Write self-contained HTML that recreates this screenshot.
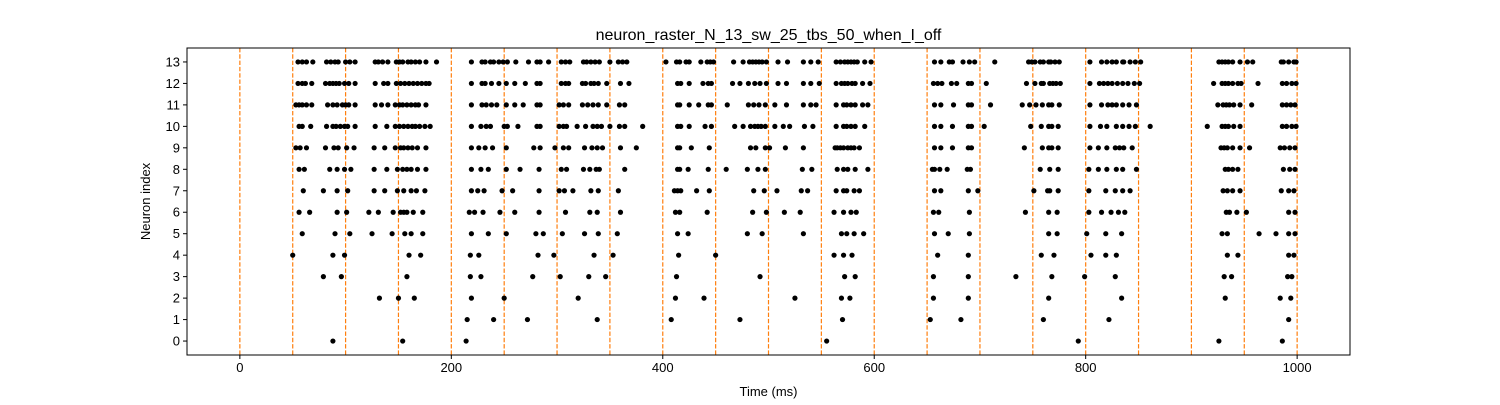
<!DOCTYPE html>
<html><head><meta charset="utf-8"><style>
html,body{margin:0;padding:0;background:#fff;}
svg text{font-family:"Liberation Sans",sans-serif;fill:#000;}
</style></head><body>
<svg id="chart" width="1500" height="400" xmlns="http://www.w3.org/2000/svg"></svg>
<script>
const title = "neuron_raster_N_13_sw_25_tbs_50_when_I_off";
const xTicks = [0, 200, 400, 600, 800, 1000];
const yTicks = [0,1,2,3,4,5,6,7,8,9,10,11,12,13];
const stimTimes = [0,50,100,150,200,250,300,350,400,450,500,550,600,650,700,750,800,850,900,950,1000];
const spikes0 = [88,154,214,555,793,926,986];
const spikes1 = [215,240,272,338,408,473,570,653,682,760,822,992];
const spikes2 = [132,150,165,219,250,320,412,439,525,569,577,656,689,765,834,932,984,994];
const spikes3 = [79,96,158,218,228,277,303,330,346,413,492,572,582,656,689,734,768,799,828,931,938,991,995];
const spikes4 = [50,88,99,160,171,218,226,282,297,335,353,415,450,562,571,579,660,689,758,770,805,819,829,934,944,992,997];
const spikes5 = [59,90,104,125,144,156,162,173,219,235,252,280,287,305,326,339,357,414,424,480,494,533,569,574,581,590,657,670,690,765,773,801,819,834,929,934,964,980,992,998];
const spikes6 = [56,66,92,101,122,131,145,152,155,158,164,173,217,222,230,246,260,283,308,331,338,360,412,416,442,485,498,515,530,562,571,578,583,656,661,690,743,765,773,803,815,824,831,837,933,936,943,952,992,998];
const spikes7 = [60,79,92,102,127,137,149,155,162,167,175,219,225,231,248,258,283,302,307,315,332,339,358,411,414,417,432,444,486,496,508,531,537,564,571,574,581,586,657,663,689,698,751,764,766,774,803,819,828,835,842,930,934,939,946,985,992,997];
const spikes8 = [56,61,85,92,99,105,127,139,149,154,158,162,168,176,219,228,235,252,265,283,304,309,325,331,337,340,364,414,416,424,443,460,480,490,497,532,541,565,571,575,582,594,655,657,662,669,688,691,757,766,774,803,812,820,829,835,848,932,935,939,944,987,993,998];
const spikes9 = [53,57,63,81,89,93,101,108,127,137,147,152,155,159,163,168,176,219,226,232,239,252,278,284,298,306,311,326,333,338,343,360,375,414,416,427,444,483,488,497,501,516,533,563,565,568,571,575,578,581,586,657,663,674,689,692,742,759,765,768,774,804,812,820,828,832,836,844,928,931,934,939,946,955,984,988,993,998];
const spikes10 = [56,59,67,82,88,91,95,99,102,109,128,139,147,151,155,159,163,166,170,175,180,219,228,233,237,250,253,263,281,284,302,306,309,319,327,334,338,342,350,359,364,381,414,417,425,440,446,468,476,483,487,490,493,497,506,514,520,534,542,564,571,574,578,582,591,657,663,674,689,692,704,748,758,765,768,774,804,814,820,829,835,841,847,861,915,929,932,935,940,946,986,990,995,999];
const spikes11 = [53,56,59,63,68,83,88,92,97,100,103,109,128,134,140,147,151,154,158,162,166,169,176,219,229,233,238,243,252,260,268,281,284,302,306,311,324,329,334,339,347,359,364,414,416,425,434,443,446,461,481,486,491,497,506,517,533,540,545,564,571,574,578,582,589,594,657,663,675,689,692,710,740,747,753,759,765,768,775,804,815,821,825,829,835,841,848,925,930,933,936,940,946,957,986,990,994,998];
const spikes12 = [55,59,62,68,81,85,88,91,94,99,103,109,128,136,140,148,152,156,160,164,168,172,176,179,219,229,232,238,245,252,260,270,281,284,304,308,311,324,327,332,335,339,347,360,368,414,417,425,438,443,446,466,473,481,487,492,498,509,517,533,540,548,564,569,572,575,579,582,589,596,656,660,664,673,678,689,692,706,744,752,758,760,766,769,772,776,804,813,817,821,825,830,835,840,846,851,921,929,932,935,939,944,947,963,986,990,995,999];
const spikes13 = [55,59,63,69,82,86,90,93,100,104,109,128,131,135,140,148,151,154,159,162,166,170,176,186,219,229,232,237,240,245,249,253,261,273,281,284,292,304,308,312,325,328,332,336,340,350,358,362,366,403,413,416,422,425,436,442,445,448,467,476,482,485,488,491,494,498,509,518,533,540,547,564,568,572,575,578,581,584,591,597,657,663,671,674,684,690,695,714,746,749,752,757,760,765,767,771,775,804,815,820,825,829,835,836,842,847,852,926,929,932,935,939,946,953,958,985,987,992,997,999];
const spikes = [spikes0,spikes1,spikes2,spikes3,spikes4,spikes5,spikes6,spikes7,spikes8,spikes9,spikes10,spikes11,spikes12,spikes13];

const NS = "http://www.w3.org/2000/svg";
const svg = document.getElementById("chart");
const L = 187, R = 1350, T = 48, B = 355;
const xMin = -50, xMax = 1050, yMin = -0.65, yMax = 13.65;
function xs(v){ return L + (v - xMin) / (xMax - xMin) * (R - L); }
function ys(v){ return B - (v - yMin) / (yMax - yMin) * (B - T); }
function mk(tag, attrs){ const e = document.createElementNS(NS, tag); for (const k in attrs) e.setAttribute(k, attrs[k]); svg.appendChild(e); return e; }

const bg = mk("rect", {x:L, y:T, width:R-L, height:B-T, fill:"#fff"});



stimTimes.forEach(t => {
  const l = mk("line", {x1:xs(t), x2:xs(t), y1:T, y2:B, stroke:"#ff7f0e", "stroke-width":1.2, "stroke-dasharray":"4.4,1.9"});
  
  
});

spikes.forEach((arr, n) => {
  arr.forEach(t => {
    const c = mk("circle", {cx:xs(t), cy:ys(n), r:2.6, fill:"#000"});
    
    
  });
});

const frame = mk("rect", {x:L, y:T, width:R-L, height:B-T, fill:"none", stroke:"#000", "stroke-width":1});



xTicks.forEach(v => {
  const tk = mk("line", {x1:xs(v), x2:xs(v), y1:B, y2:B+4, stroke:"#000", "stroke-width":1});
  
  
  const tx = mk("text", {x:xs(v), y:B+17, "text-anchor":"middle", "font-size":"13"});
  tx.textContent = v;
  
  
});
yTicks.forEach(v => {
  const tk = mk("line", {x1:L-4, x2:L, y1:ys(v), y2:ys(v), stroke:"#000", "stroke-width":1});
  
  
  const tx = mk("text", {x:L-7, y:ys(v)+4.5, "text-anchor":"end", "font-size":"13"});
  tx.textContent = v;
  
  
});

const tt = mk("text", {x:(L+R)/2, y:40, "text-anchor":"middle", "font-size":"16"});
tt.textContent = title;



const xl = mk("text", {x:(L+R)/2, y:396, "text-anchor":"middle", "font-size":"13"});
xl.textContent = "Time (ms)";



const yl = mk("text", {x:0, y:0, "text-anchor":"middle", "font-size":"13", transform:`translate(150,${(T+B)/2}) rotate(-90)`});
yl.textContent = "Neuron index";


</script>
</body></html>
